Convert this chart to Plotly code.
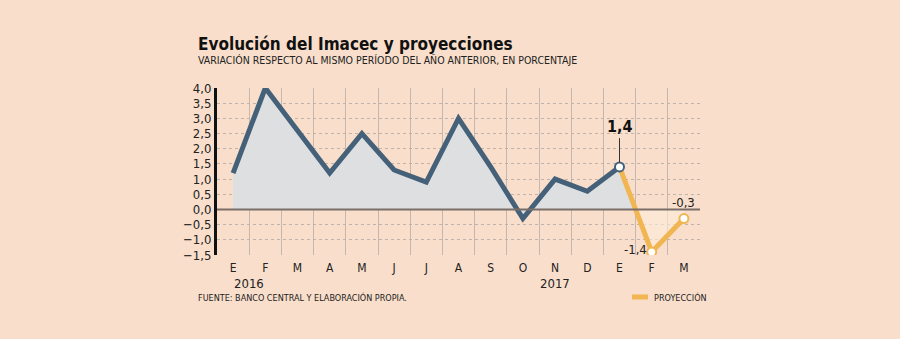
import plotly.graph_objects as go

months = ["E", "F", "M", "A", "M", "J", "J", "A", "S", "O", "N", "D", "E", "F", "M"]
actual = [1.2, 4.0, 2.6, 1.2, 2.5, 1.3, 0.9, 3.0, 1.4, -0.3, 1.0, 0.6, 1.4]
proj_idx = [12, 13, 14]
proj = [1.4, -1.4, -0.3]
years = ["2016", "2017"]
yticks = [-1.5, -1.0, -0.5, 0.0, 0.5, 1.0, 1.5, 2.0, 2.5, 3.0, 3.5, 4.0]

BG = "#F9DFCB"
NAVY = "#45617A"
ORANGE = "#F1B552"
FONT = "DejaVu Sans Condensed"

W, H = 900, 339
L, R, T, B = 217, 200, 88, 84
pw, ph = W - L - R, H - T - B


def px(x):
    return (x - L) / pw


def py(y):
    return (H - y - B) / ph


x_act = list(range(len(actual)))

# grey area continues under the projection until it crosses zero
x_fill = list(x_act)
y_fill = list(actual)
for (xa, ya), (xb, yb) in zip(zip(proj_idx, proj), zip(proj_idx[1:], proj[1:])):
    if ya >= 0 > yb:
        x_fill.append(xa + ya / (ya - yb) * (xb - xa))
        y_fill.append(0.0)
        break

fig = go.Figure()
fig.add_trace(go.Scatter(x=proj_idx, y=proj, mode="lines", line=dict(color="rgba(0,0,0,0)"),
                         fill="tozeroy", fillcolor="rgba(253,236,220,0.6)", hoverinfo="skip", showlegend=False))
fig.add_trace(go.Scatter(x=x_fill, y=y_fill, mode="lines", line=dict(color="rgba(0,0,0,0)"),
                         fill="tozeroy", fillcolor="#DEDFE1", hoverinfo="skip", showlegend=False))
fig.add_trace(go.Scatter(x=x_act, y=actual, mode="lines", line=dict(color=NAVY, width=5),
                         showlegend=False))
fig.add_trace(go.Scatter(x=proj_idx, y=proj, mode="lines", line=dict(color=ORANGE, width=5),
                         showlegend=False))
fig.add_trace(go.Scatter(x=proj_idx, y=proj, mode="markers",
                         marker=dict(size=9, color="white",
                                     line=dict(color=[NAVY, ORANGE, ORANGE], width=2)),
                         showlegend=False))

# zero line
fig.add_shape(type="line", xref="paper", yref="y", x0=0, x1=1, y0=0, y1=0,
              line=dict(color="#7A6F68", width=2))
# leader for 1,4
fig.add_shape(type="line", xref="x", yref="y", x0=12, x1=12, y0=1.55, y1=2.35,
              line=dict(color="#333333", width=1))

fig.add_annotation(x=12, y=2.35, text="<b>1,4</b>", showarrow=False, yanchor="bottom",
                   font=dict(size=16, color="#111111", family=FONT))
fig.add_annotation(x=13, y=-1.4, text="-1,4", showarrow=False, xanchor="right", xshift=-3,
                   yanchor="middle", yshift=2, font=dict(size=13, color="#222222", family=FONT))
fig.add_annotation(x=14, y=-0.3, text="-0,3", showarrow=False, yanchor="bottom", yshift=7,
                   font=dict(size=13, color="#222222", family=FONT))

fig.add_annotation(x=0.5, y=0, yref="paper", text=years[0], showarrow=False, yanchor="top",
                   yshift=-19, font=dict(size=13, color="#222222", family=FONT))
fig.add_annotation(x=10, y=0, yref="paper", text=years[1], showarrow=False, yanchor="top",
                   yshift=-19, font=dict(size=13, color="#222222", family=FONT))

# titles and footer
fig.add_annotation(x=px(196), y=py(44), xref="paper", yref="paper",
                   text="<b>Evolución del Imacec y proyecciones</b>",
                   showarrow=False, xanchor="left", yanchor="middle",
                   font=dict(size=17, color="#111111", family=FONT))
fig.add_annotation(x=px(196), y=py(60), xref="paper", yref="paper",
                   text="VARIACIÓN RESPECTO AL MISMO PERÍODO DEL AÑO ANTERIOR, EN PORCENTAJE",
                   showarrow=False, xanchor="left", yanchor="middle",
                   font=dict(size=10.5, color="#222222", family=FONT))
fig.add_annotation(x=px(196), y=py(297), xref="paper", yref="paper",
                   text="FUENTE: BANCO CENTRAL Y ELABORACIÓN PROPIA.",
                   showarrow=False, xanchor="left", yanchor="middle",
                   font=dict(size=9, color="#222222", family=FONT))
fig.add_annotation(x=px(652), y=py(297), xref="paper", yref="paper", text="PROYECCIÓN",
                   showarrow=False, xanchor="left", yanchor="middle",
                   font=dict(size=9, color="#222222", family=FONT))
fig.add_shape(type="line", xref="paper", yref="paper", x0=px(632), x1=px(648), y0=py(297), y1=py(297),
              line=dict(color=ORANGE, width=5))

fig.update_layout(
    width=W, height=H, margin=dict(l=L, r=R, t=T, b=B),
    paper_bgcolor=BG, plot_bgcolor=BG, separators=",.",
    font=dict(family=FONT, size=13, color="#222222"),
    xaxis=dict(range=[-0.5, 14.5], tickmode="array", tickvals=list(range(len(months))), ticktext=months,
               showgrid=False, zeroline=False, showline=False, ticks="", ticklabelstandoff=4,
               tickfont=dict(size=12),
               minor=dict(tick0=0.5, dtick=1, showgrid=True, gridcolor="#C4B8AE", gridwidth=1),
               fixedrange=True),
    yaxis=dict(range=[-1.5, 4.0], tickmode="array", tickvals=yticks, tickformat=".1f",
               showgrid=True, gridcolor="#BFB3AA", griddash="dot", gridwidth=1,
               zeroline=False, showline=True, linecolor="#111111", linewidth=3,
               ticks="", tickfont=dict(size=13), fixedrange=True),
    showlegend=False,
)

fig.write_html("out.html")
